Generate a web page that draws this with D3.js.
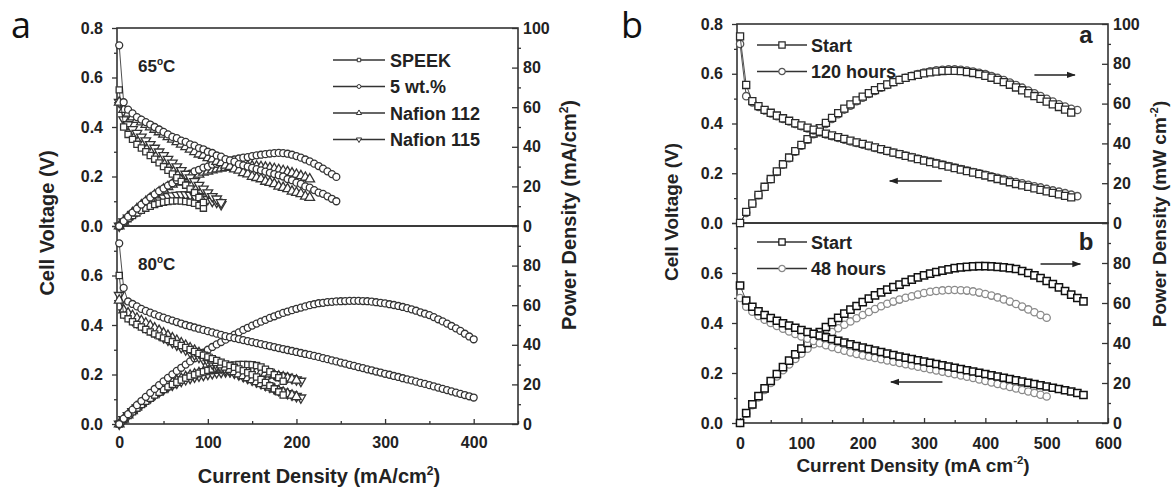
<!DOCTYPE html>
<html>
<head>
<meta charset="utf-8">
<script src="https://cdn.jsdelivr.net/npm/d3@7"></script>
<style>
  body { margin: 0; background: #fff; }
</style>
</head>
<body>
<svg id="chart"></svg>
<script>
const width = 1175;
const height = 488;
const font = "'Liberation Sans', Arial, Helvetica, sans-serif";

// ---- axis ticks ----
const voltTicks = [0, 0.2, 0.4, 0.6, 0.8];
const voltMinor = [0.1, 0.3, 0.5, 0.7];
const powerTicks = [0, 20, 40, 60, 80, 100];
const powerMinor = [10, 30, 50, 70, 90];
const curTicksA = [0, 100, 200, 300, 400];
const curMinorA = [50, 150, 250, 350, 450];
const curTicksB = [0, 100, 200, 300, 400, 500, 600];
const curMinorB = [50, 150, 250, 350, 450, 550];

// ---- current density grids (mA/cm2); series values are read at these currents ----
const currentA = [0,5,10,15,20,25,30,35,40,45,50,55,60,65,70,75,80,85,90,95,100,105,110,115,120,125,130,135,140,145,150,155,160,165,170,175,180,185,190,195,200,205,210,215,220,225,230,235,240,245,250,255,260,265,270,275,280,285,290,295,300,305,310,315,320,325,330,335,340,345,350,355,360,365,370,375,380,385,390,395,400];
const currentB = [0,10,20,30,40,50,60,70,80,90,100,110,120,130,140,150,160,170,180,190,200,210,220,230,240,250,260,270,280,290,300,310,320,330,340,350,360,370,380,390,400,410,420,430,440,450,460,470,480,490,500,510,520,530,540,550,560];

// ---- figure a, 65 C ----
const membranes = ["SPEEK", "5 wt.%", "Nafion 112", "Nafion 115"];
const speek65V = [0.55,0.40,0.37,0.35,0.33,0.315,0.30,0.285,0.27,0.255,0.24,0.225,0.21,0.195,0.18,0.165,0.15,0.135,0.115,0.095];
const speek65P = [0,2.0,3.7,5.3,6.6,7.9,9.0,10.0,10.8,11.5,12.0,12.4,12.6,12.7,12.6,12.4,12.0,11.5,10.4,9.0];
const wt5_65V = [0.73,0.50,0.47,0.455,0.44,0.43,0.42,0.41,0.40,0.39,0.38,0.37,0.36,0.355,0.345,0.34,0.33,0.325,0.315,0.31,0.30,0.295,0.285,0.28,0.27,0.265,0.26,0.25,0.245,0.24,0.235,0.23,0.225,0.22,0.215,0.21,0.205,0.20,0.19,0.185,0.175,0.17,0.16,0.155,0.145,0.135,0.13,0.12,0.11,0.10];
const wt5_65P = [0,2.5,4.7,6.8,8.8,10.8,12.6,14.4,16.0,17.6,19.0,20.4,21.6,23.1,24.2,25.5,26.4,27.6,28.4,29.5,30.0,31.0,31.4,32.2,32.4,33.0,33.6,34.1,34.5,34.8,35.3,35.7,36.0,36.3,36.6,36.8,36.9,36.8,36.5,36.0,35.3,34.5,33.6,32.6,31.5,30.3,29.0,27.6,26.2,24.8];
const n112_65V = [0.50,0.47,0.455,0.44,0.43,0.42,0.41,0.40,0.39,0.38,0.37,0.36,0.35,0.34,0.33,0.32,0.31,0.30,0.29,0.285,0.275,0.27,0.26,0.255,0.245,0.24,0.23,0.225,0.215,0.21,0.20,0.195,0.19,0.18,0.175,0.17,0.16,0.155,0.15,0.14,0.135,0.13,0.12,0.115];
const n112_65P = [0,2.4,4.6,6.6,8.6,10.5,12.3,14.0,15.6,17.1,18.5,19.8,21.0,22.1,23.1,24.0,24.8,25.5,26.1,27.1,27.6,28.2,28.7,29.1,29.5,29.8,30.0,30.2,30.3,30.3,30.2,30.1,29.9,29.6,29.3,28.9,28.4,27.9,27.3,26.7,26.0,25.3,24.5,23.7];
const n115_65V = [0.50,0.43,0.41,0.39,0.375,0.36,0.345,0.33,0.315,0.30,0.285,0.27,0.255,0.24,0.225,0.21,0.195,0.18,0.165,0.15,0.135,0.12,0.11,0.095];
const n115_65P = [0,2.2,4.1,5.9,7.5,9.0,10.4,11.6,12.6,13.5,14.3,14.9,15.3,15.6,15.8,15.8,15.6,15.3,14.9,14.3,13.5,12.6,12.1,10.9];

// ---- figure a, 80 C ----
const speek80V = [0.60,0.44,0.425,0.413,0.402,0.392,0.382,0.372,0.364,0.356,0.348,0.341,0.333,0.325,0.317,0.309,0.301,0.293,0.285,0.278,0.271,0.264,0.257,0.25,0.243,0.236,0.229,0.222,0.215,0.207,0.199,0.19,0.18,0.168,0.155,0.142,0.13,0.117];
const speek80P = [0,2.2,4.25,6.2,8.0,9.8,11.5,13.0,14.6,16.0,17.4,18.8,20.0,21.1,22.2,23.2,24.1,24.9,25.7,26.4,27.1,27.7,28.3,28.8,29.2,29.5,29.8,30.0,30.1,30.0,29.9,29.5,28.8,27.7,26.4,24.9,23.4,21.6];
const wt5_80V = [0.73,0.55,0.495,0.485,0.475,0.465,0.457,0.45,0.443,0.436,0.43,0.424,0.418,0.412,0.406,0.40,0.395,0.39,0.385,0.38,0.375,0.37,0.365,0.36,0.355,0.351,0.347,0.343,0.339,0.335,0.331,0.327,0.323,0.319,0.315,0.311,0.307,0.303,0.299,0.295,0.291,0.287,0.283,0.279,0.275,0.271,0.266,0.262,0.257,0.253,0.248,0.244,0.239,0.235,0.23,0.226,0.221,0.217,0.212,0.208,0.203,0.199,0.194,0.19,0.185,0.18,0.176,0.171,0.166,0.162,0.157,0.152,0.147,0.142,0.137,0.132,0.127,0.122,0.117,0.112,0.107];
const wt5_80P = [0,2.75,4.95,7.3,9.5,11.6,13.7,15.75,17.7,19.6,21.5,23.3,25.1,26.8,28.4,30.0,31.6,33.2,34.7,36.1,37.5,38.9,40.2,41.4,42.6,43.9,45.1,46.3,47.5,48.6,49.7,50.7,51.7,52.6,53.6,54.4,55.3,56.1,56.8,57.5,58.2,58.8,59.4,60.0,60.5,61.0,61.2,61.6,61.7,61.9,62.0,62.1,62.2,62.2,62.2,62.1,62.0,61.8,61.5,61.2,60.9,60.5,60.1,59.6,59.1,58.5,57.9,57.2,56.4,55.7,55.0,54.0,52.9,51.8,50.7,49.5,48.3,47.0,45.6,44.2,42.8];
const n112_80V = [0.50,0.46,0.448,0.437,0.427,0.417,0.407,0.397,0.387,0.377,0.367,0.357,0.347,0.337,0.327,0.317,0.307,0.297,0.287,0.277,0.267,0.257,0.247,0.238,0.229,0.22,0.211,0.202,0.194,0.186,0.178,0.17,0.162,0.155,0.148,0.141,0.134,0.128,0.122,0.116,0.11];
const n112_80P = [0,2.3,4.5,6.6,8.5,10.4,12.2,13.9,15.5,17.0,18.4,19.6,20.8,21.9,22.9,23.8,24.6,25.2,25.8,26.3,26.7,27.0,27.2,27.4,27.5,27.5,27.4,27.3,27.2,27.0,26.7,26.4,25.9,25.6,25.2,24.7,24.1,23.7,23.2,22.6,22.0];
const n115_80V = [0.52,0.45,0.435,0.42,0.41,0.40,0.39,0.38,0.37,0.36,0.35,0.34,0.33,0.32,0.31,0.30,0.29,0.28,0.27,0.26,0.252,0.244,0.236,0.228,0.22,0.213,0.206,0.199,0.192,0.185,0.178,0.171,0.164,0.157,0.15,0.143,0.136,0.13,0.124,0.118,0.112,0.106];
const n115_80P = [0,2.25,4.35,6.3,8.2,10.0,11.7,13.3,14.8,16.2,17.5,18.7,19.8,20.8,21.7,22.5,23.2,23.8,24.3,24.7,25.2,25.6,26.0,26.2,26.4,26.6,26.8,26.9,26.9,26.8,26.7,26.5,26.2,25.9,25.5,25.0,24.5,24.1,23.6,23.0,22.4,21.7];

// ---- figure b, panel a: start vs 120 hours ----
const startAV = [0.75,0.555,0.49,0.47,0.455,0.443,0.432,0.421,0.411,0.401,0.392,0.383,0.375,0.367,0.359,0.352,0.345,0.338,0.331,0.324,0.318,0.311,0.304,0.297,0.29,0.283,0.277,0.27,0.264,0.257,0.251,0.245,0.239,0.233,0.227,0.221,0.215,0.209,0.203,0.197,0.191,0.184,0.177,0.171,0.164,0.157,0.151,0.145,0.139,0.133,0.127,0.121,0.115,0.109,0.103];
const startAP = [0,5.6,9.8,14.1,18.2,22.1,25.9,29.5,32.9,36.1,39.2,42.1,45.0,47.7,50.3,52.8,55.2,57.5,59.6,61.6,63.5,65.2,66.8,68.3,69.6,70.8,71.9,72.9,73.8,74.5,75.2,75.7,76.1,76.4,76.5,76.5,76.3,75.9,75.4,74.8,74.0,73.0,71.9,70.8,69.5,68.1,66.7,65.2,63.8,62.4,61.0,59.6,58.3,57.0,55.5];
const h120V = [0.72,0.51,0.485,0.467,0.452,0.44,0.429,0.418,0.408,0.398,0.389,0.38,0.372,0.364,0.356,0.349,0.342,0.335,0.328,0.322,0.315,0.309,0.302,0.296,0.289,0.283,0.277,0.271,0.265,0.259,0.253,0.247,0.241,0.235,0.229,0.223,0.217,0.211,0.205,0.2,0.194,0.188,0.182,0.177,0.171,0.165,0.16,0.154,0.148,0.143,0.137,0.131,0.126,0.12,0.114,0.108];
const h120P = [0,5.1,9.7,14.0,18.1,22.0,25.7,29.3,32.6,35.8,38.9,41.8,44.6,47.3,49.8,52.3,54.7,57.0,59.0,61.2,63.0,64.8,66.4,68.0,69.4,70.7,71.9,73.0,74.0,74.8,75.6,76.2,76.7,77.0,77.2,77.2,77.0,76.6,76.1,75.5,74.8,73.9,72.9,71.8,70.6,69.3,68.0,66.6,65.2,63.8,62.4,61.0,59.7,58.5,57.4,56.8];

// ---- figure b, panel b: start vs 48 hours ----
const startBV = [0.55,0.49,0.465,0.447,0.432,0.42,0.409,0.399,0.39,0.381,0.372,0.364,0.357,0.35,0.343,0.336,0.329,0.322,0.315,0.308,0.302,0.296,0.29,0.284,0.278,0.272,0.266,0.261,0.256,0.251,0.246,0.241,0.236,0.231,0.226,0.221,0.216,0.211,0.206,0.201,0.196,0.191,0.186,0.181,0.176,0.171,0.166,0.161,0.156,0.151,0.146,0.141,0.136,0.131,0.126,0.12,0.112];
const startBP = [0,4.9,9.3,13.4,17.3,21.0,24.5,27.9,31.2,34.3,37.2,40.0,42.8,45.5,48.0,50.4,52.6,54.7,56.7,58.5,60.4,62.2,63.8,65.3,66.7,68.0,69.2,70.5,71.7,72.8,73.8,74.7,75.5,76.2,76.8,77.4,77.8,78.1,78.3,78.4,78.4,78.3,78.1,77.8,77.4,77.0,76.0,75.0,73.8,72.5,71.0,69.5,67.8,66.0,64.2,62.5,60.8];
const h48V = [0.50,0.465,0.445,0.428,0.413,0.40,0.388,0.377,0.366,0.356,0.346,0.337,0.328,0.319,0.311,0.303,0.296,0.289,0.282,0.276,0.27,0.265,0.26,0.255,0.25,0.245,0.24,0.235,0.23,0.225,0.22,0.215,0.21,0.205,0.20,0.195,0.19,0.185,0.18,0.174,0.168,0.162,0.156,0.15,0.144,0.138,0.132,0.126,0.12,0.113,0.106];
const h48P = [0,4.7,8.9,12.8,16.5,20.0,23.3,26.4,29.3,32.0,34.6,37.1,39.4,41.5,43.5,45.5,47.4,49.1,50.8,52.4,54.0,55.5,57.0,58.4,59.6,60.7,61.7,62.6,63.4,64.2,65.0,65.6,66.0,66.3,66.5,66.5,66.4,66.2,65.8,65.2,64.5,63.7,62.8,61.8,60.7,59.5,58.2,56.8,55.4,54.0,52.6];

const svg = d3.select("#chart")
    .attr("width", width)
    .attr("height", height)
    .style("font-family", font);

svg.append("rect").attr("width", width).attr("height", height).attr("fill", "#fff");

const defs = svg.append("defs");
defs.append("marker")
    .attr("id", "head")
    .attr("viewBox", "0 0 10 10")
    .attr("refX", 9).attr("refY", 5)
    .attr("markerWidth", 6).attr("markerHeight", 6)
    .attr("orient", "auto")
    .append("path").attr("d", "M0,1.5L10,5L0,8.5Z").attr("fill", "#222");

// ---- scales ----
const xA = d3.scaleLinear().domain([-2.5, 450]).range([117, 518]);
const xB = d3.scaleLinear().domain([-5, 600]).range([737, 1108]);
const panels = {
    a65: {x: xA, top: 28, bottom: 226},
    a80: {x: xA, top: 226, bottom: 424},
    bA: {x: xB, top: 24, bottom: 223},
    bB: {x: xB, top: 223, bottom: 423}
};
for (const k in panels) {
    const p = panels[k];
    p.yV = d3.scaleLinear().domain([0, 0.8]).range([p.bottom, p.top]);
    p.yP = d3.scaleLinear().domain([0, 100]).range([p.bottom, p.top]);
}

function styleAxis(a, size) {
    a.select(".domain").remove();
    a.selectAll("line").attr("stroke", "#333").attr("stroke-width", 1.3);
    a.selectAll("text")
        .attr("fill", "#222")
        .attr("font-size", size || 16)
        .attr("font-weight", "bold")
        .attr("font-family", font);
}

function frame(p, opts) {
    const g = svg.append("g");
    const x0 = p.x.range()[0], x1 = p.x.range()[1];
    const fmtV = d3.format(".1f");
    g.append("g").attr("transform", `translate(${x0},0)`)
        .call(d3.axisLeft(p.yV).tickValues(voltTicks).tickSize(5).tickPadding(9)
            .tickFormat(d => (opts.hideTop && d === 0.8) ? "" : fmtV(d)))
        .call(styleAxis);
    g.append("g").attr("transform", `translate(${x0},0)`)
        .call(d3.axisLeft(p.yV).tickValues(voltMinor).tickSize(3).tickFormat(""))
        .call(styleAxis);
    g.append("g").attr("transform", `translate(${x1},0)`)
        .call(d3.axisRight(p.yP).tickValues(powerTicks).tickSize(-6).tickPadding(5)
            .tickFormat(d => (opts.hideTop && d === 100) ? "" : d))
        .call(styleAxis);
    g.append("g").attr("transform", `translate(${x1},0)`)
        .call(d3.axisRight(p.yP).tickValues(powerMinor).tickSize(3).tickFormat(""))
        .call(styleAxis);
    if (opts.xTicks) {
        g.append("g").attr("transform", `translate(0,${p.bottom})`)
            .call(d3.axisBottom(p.x).tickValues(opts.xTicks).tickSize(-5).tickPadding(opts.pad))
            .call(styleAxis);
        g.append("g").attr("transform", `translate(0,${p.bottom})`)
            .call(d3.axisBottom(p.x).tickValues(opts.xMinor).tickSize(-3).tickFormat(""))
            .call(styleAxis);
    }
    g.append("rect")
        .attr("x", x0).attr("y", p.top)
        .attr("width", x1 - x0).attr("height", p.bottom - p.top)
        .attr("fill", "none").attr("stroke", "#333").attr("stroke-width", 1.6);
}

const shapes = {
    square: {type: d3.symbolSquare, rot: 0},
    circle: {type: d3.symbolCircle, rot: 0},
    up: {type: d3.symbolTriangle, rot: 0},
    down: {type: d3.symbolTriangle, rot: 180}
};

function series(p, y, cur, vals, shape, size, stroke, sw) {
    const pts = vals.map((v, i) => [cur[i], v]);
    const g = svg.append("g");
    g.append("path")
        .datum(pts)
        .attr("d", d3.line().x(d => p.x(d[0])).y(d => y(d[1])))
        .attr("fill", "none")
        .attr("stroke", "#222")
        .attr("stroke-width", 0.8);
    const s = shapes[shape];
    g.selectAll("path.m")
        .data(pts)
        .enter().append("path")
        .attr("class", "m")
        .attr("transform", d => `translate(${p.x(d[0])},${y(d[1])}) rotate(${s.rot})`)
        .attr("d", d3.symbol(s.type, size)())
        .attr("fill", "#fff")
        .attr("stroke", stroke)
        .attr("stroke-width", sw || 1.3);
}

// ---- figure a ----
frame(panels.a65, {hideTop: false});
frame(panels.a80, {hideTop: true, xTicks: curTicksA, xMinor: curMinorA, pad: 13});

const gray = "#333";
const pa = panels.a65, pb = panels.a80;
series(pa, pa.yP, currentA, n115_65P, "down", 40, gray);
series(pa, pa.yP, currentA, n112_65P, "up", 40, gray);
series(pa, pa.yP, currentA, speek65P, "square", 38, gray);
series(pa, pa.yP, currentA, wt5_65P, "circle", 38, gray);
series(pa, pa.yV, currentA, n115_65V, "down", 40, gray);
series(pa, pa.yV, currentA, n112_65V, "up", 40, gray);
series(pa, pa.yV, currentA, speek65V, "square", 38, gray);
series(pa, pa.yV, currentA, wt5_65V, "circle", 38, gray);

series(pb, pb.yP, currentA, n115_80P, "down", 40, gray);
series(pb, pb.yP, currentA, n112_80P, "up", 40, gray);
series(pb, pb.yP, currentA, speek80P, "square", 38, gray);
series(pb, pb.yP, currentA, wt5_80P, "circle", 38, gray);
series(pb, pb.yV, currentA, n115_80V, "down", 40, gray);
series(pb, pb.yV, currentA, n112_80V, "up", 40, gray);
series(pb, pb.yV, currentA, speek80V, "square", 38, gray);
series(pb, pb.yV, currentA, wt5_80V, "circle", 38, gray);

// legend a
const legShapes = ["square", "circle", "up", "down"];
membranes.forEach((name, i) => {
    const yy = 60 + i * 26.5;
    svg.append("line").attr("x1", 333).attr("x2", 385).attr("y1", yy).attr("y2", yy)
        .attr("stroke", "#333").attr("stroke-width", 1.3);
    const s = shapes[legShapes[i]];
    svg.append("path")
        .attr("transform", `translate(359,${yy}) rotate(${s.rot})`)
        .attr("d", d3.symbol(s.type, 12)())
        .attr("fill", "#fff").attr("stroke", "#333").attr("stroke-width", 1);
    svg.append("text").attr("x", 390).attr("y", yy + 6.5)
        .attr("font-size", 18).attr("font-weight", "bold").attr("fill", "#222")
        .text(name);
});

function tempLabel(x, y, t) {
    const tx = svg.append("text").attr("x", x).attr("y", y)
        .attr("font-size", 17).attr("font-weight", "bold").attr("fill", "#222");
    tx.append("tspan").text(t);
    tx.append("tspan").attr("font-size", 10).attr("dy", -7).text("o");
    tx.append("tspan").attr("dy", 7).text("C");
}
tempLabel(138, 72, "65");
tempLabel(138, 270, "80");

function supTitle(x, y, rot, pre, sup, post, size) {
    const t = svg.append("text")
        .attr("transform", `translate(${x},${y}) rotate(${rot})`)
        .attr("text-anchor", "middle")
        .attr("font-size", size).attr("font-weight", "bold").attr("fill", "#222");
    t.append("tspan").text(pre);
    if (sup) {
        t.append("tspan").attr("font-size", size * 0.6).attr("dy", -size * 0.4).text(sup);
        t.append("tspan").attr("dy", size * 0.4).text(post);
    }
}
supTitle(54, 223, -90, "Cell Voltage (V)", null, null, 20);
supTitle(576, 215, -90, "Power Density (mA/cm", "2", ")", 20);
supTitle(319, 483, 0, "Current Density (mA/cm", "2", ")", 20);

svg.append("text").attr("x", 11).attr("y", 38)
    .attr("font-family", "'Open Sans', 'Noto Sans', sans-serif")
    .attr("font-size", 36).attr("fill", "#111").text("a");

// ---- figure b ----
frame(panels.bA, {hideTop: false});
frame(panels.bB, {hideTop: true, xTicks: curTicksB, xMinor: curMinorB, pad: 15});

const qa = panels.bA, qb = panels.bB;
series(qa, qa.yP, currentB, h120P, "circle", 42, "#555");
series(qa, qa.yP, currentB, startAP, "square", 50, "#2a2a2a");
series(qa, qa.yV, currentB, h120V, "circle", 42, "#555");
series(qa, qa.yV, currentB, startAV, "square", 50, "#2a2a2a");

series(qb, qb.yP, currentB, h48P, "circle", 42, "#8a8a8a");
series(qb, qb.yP, currentB, startBP, "square", 52, "#111", 1.5);
series(qb, qb.yV, currentB, h48V, "circle", 42, "#8a8a8a");
series(qb, qb.yV, currentB, startBV, "square", 52, "#111", 1.5);

function legendB(y0, labels, colors) {
    labels.forEach((name, i) => {
        const yy = y0 + i * 26.5;
        svg.append("line").attr("x1", 757).attr("x2", 807).attr("y1", yy).attr("y2", yy)
            .attr("stroke", "#333").attr("stroke-width", 1.3);
        svg.append("path")
            .attr("transform", `translate(782,${yy})`)
            .attr("d", d3.symbol(i === 0 ? d3.symbolSquare : d3.symbolCircle, i === 0 ? 40 : 32)())
            .attr("fill", "#fff").attr("stroke", colors[i]).attr("stroke-width", 1.2);
        svg.append("text").attr("x", 811).attr("y", yy + 6.5)
            .attr("font-size", 18).attr("font-weight", "bold").attr("fill", "#222")
            .text(name);
    });
}
legendB(45, ["Start", "120 hours"], ["#2a2a2a", "#555"]);
legendB(242, ["Start", "48 hours"], ["#111", "#8a8a8a"]);

function arrow(p, y, i0, i1, v) {
    svg.append("line")
        .attr("x1", p.x(i0)).attr("x2", p.x(i1))
        .attr("y1", y(v)).attr("y2", y(v))
        .attr("stroke", "#222").attr("stroke-width", 1.5)
        .attr("marker-end", "url(#head)");
}
arrow(qa, qa.yP, 480, 546, 74.4);
arrow(qa, qa.yV, 329, 244, 0.169);
arrow(qb, qb.yP, 490, 555, 79.5);
arrow(qb, qb.yV, 330, 246, 0.164);

svg.append("text").attr("x", 1086).attr("y", 43).attr("text-anchor", "middle")
    .attr("font-size", 24).attr("font-weight", "bold").attr("fill", "#222").text("a");
svg.append("text").attr("x", 1086).attr("y", 250).attr("text-anchor", "middle")
    .attr("font-size", 24).attr("font-weight", "bold").attr("fill", "#222").text("b");

supTitle(678, 212, -90, "Cell Voltage (V)", null, null, 19);
supTitle(1166, 214, -90, "Power Density (mW cm", "-2", ")", 19);
supTitle(913, 472, 0, "Current Density (mA cm", "-2", ")", 19);

svg.append("text").attr("x", 621).attr("y", 38)
    .attr("font-family", "'Open Sans', 'Noto Sans', sans-serif")
    .attr("font-size", 36).attr("fill", "#111").text("b");
</script>
</body>
</html>
